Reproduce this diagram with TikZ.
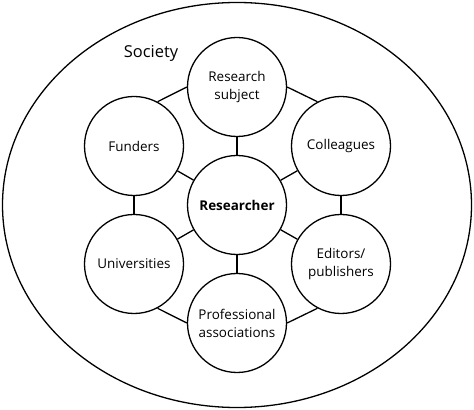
\documentclass[tikz,border=0pt]{standalone}
\usepackage{fontspec}
\setmainfont{Open Sans}
\begin{document}
\begin{tikzpicture}[>=latex,line join=bevel,line width=1.3bp,
  actor/.style={draw,circle,minimum size=99bp,inner sep=0pt,align=center,font=\fontsize{13.5}{18}\selectfont},
  label/.style={draw=none,font=\fontsize{16.5}{20}\selectfont}]
%%
\useasboundingbox (0bp,0bp) rectangle (474bp,410bp);
\draw (237bp,205bp) ellipse (234.5bp and 202.5bp);
\node (society) at (151bp,357bp) [label] {Society};
%
\node (researcher) at (237bp,205bp) [actor] {\textbf{Researcher}};
  \node (research+subject) at (237bp,323bp) [actor] {Research\\subject};
  \node (colleagues) at (341bp,264bp) [actor] {Colleagues};
  \node (editors+publishers) at (341bp,146bp) [actor] {Editors/\\publishers};
  \node (professional+associations) at (237bp,87bp) [actor] {Professional\\associations};
  \node (universities) at (134bp,146bp) [actor] {Universities};
  \node (funders) at (134bp,264bp) [actor] {Funders};
%
  \draw (researcher) -- (research+subject);
  \draw (researcher) -- (colleagues);
  \draw (researcher) -- (editors+publishers);
  \draw (researcher) -- (professional+associations);
  \draw (researcher) -- (universities);
  \draw (researcher) -- (funders);
  \draw (funders.62) -- (research+subject.west);
  \draw (colleagues.118) -- (research+subject.east);
  \draw (colleagues) -- (editors+publishers);
  \draw (editors+publishers.-118) -- (professional+associations.east);
  \draw (universities.-62) -- (professional+associations.west);
  \draw (universities) -- (funders);
%
\end{tikzpicture}
\end{document}
